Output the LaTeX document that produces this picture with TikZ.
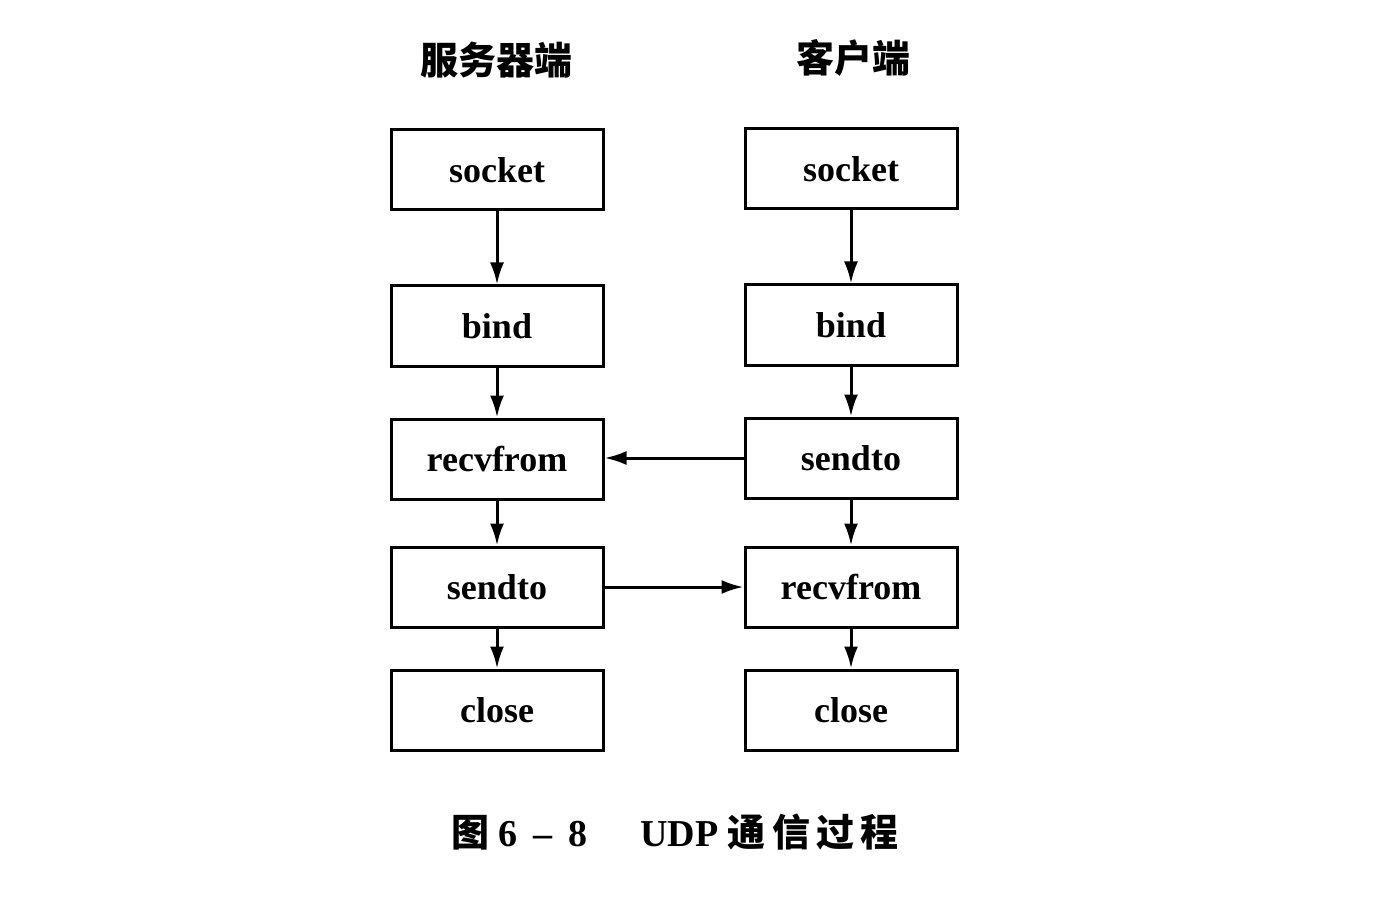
\documentclass[tikz,border=0pt]{standalone}
\usepackage{fontspec}
\setmainfont{Liberation Serif}
\newfontfamily\cjk{Noto Sans CJK SC}
\usepackage{tikz}
\usetikzlibrary{arrows.meta,positioning}

\begin{document}
\begin{tikzpicture}[
    x=0.5pt, y=-0.5pt,
    step box/.style={rectangle, draw, line width=1.5pt, minimum width=106pt, minimum height=40pt, font=\fontsize{18}{20}\selectfont\bfseries},
    flow/.style={-{Latex[length=11pt,width=7pt]}, line width=1.5pt},
    title/.style={font=\fontsize{19}{22}\selectfont\cjk\bfseries}
]
\useasboundingbox (0,0) rectangle (1389,915);

% Column titles
\node[title] (srv) at (496,60) {服务器端};
\node[title] (cli) at (853,58) {客户端};

% Server side
\node[step box] (s1) at (497,170) {socket};
\node[step box] (s2) at (497,326) {bind};
\node[step box] (s3) at (497,459) {recvfrom};
\node[step box] (s4) at (497,587) {sendto};
\node[step box] (s5) at (497,710) {close};

% Client side
\node[step box] (c1) at (851,169) {socket};
\node[step box] (c2) at (851,325) {bind};
\node[step box] (c3) at (851,458) {sendto};
\node[step box] (c4) at (851,587) {recvfrom};
\node[step box] (c5) at (851,710) {close};

% Vertical flow
\foreach \a/\b in {s1/s2, s2/s3, s3/s4, s4/s5, c1/c2, c2/c3, c3/c4, c4/c5} {
    \draw[flow] (\a) -- (\b);
}

% Messages
\draw[flow] (c3) -- (s3.east |- c3);
\draw[flow] (s4) -- (c4);

% Caption
\node[font=\fontsize{19}{22}\selectfont\bfseries] (cap) at (675,832)
    {{\cjk 图}\ 6\ \,--\ \,8\hspace{1.4em}UDP\ {\cjk 通\,信\,过\,程}};

\end{tikzpicture}
\end{document}
